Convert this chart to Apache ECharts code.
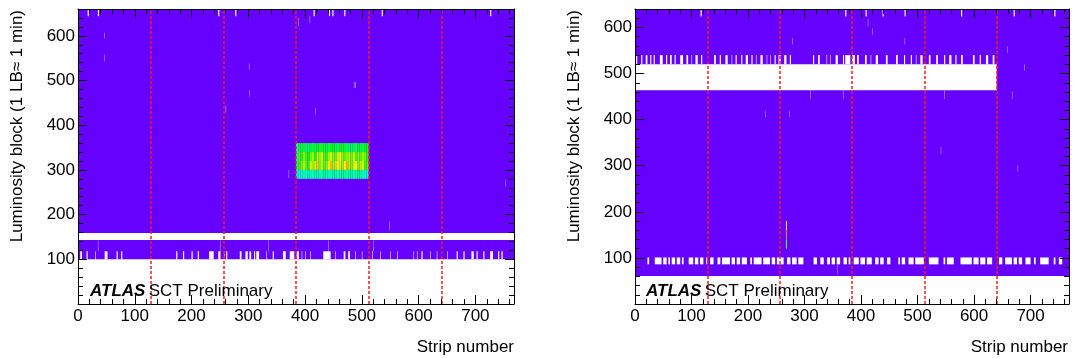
<!DOCTYPE html>
<html>
<head>
<meta charset="utf-8">
<script src="https://cdn.jsdelivr.net/npm/echarts@6/dist/echarts.min.js"></script>
<style>
  html, body { margin: 0; padding: 0; background: #fff; }
  #chart { width: 1073px; height: 358px; }
</style>
</head>
<body>
<div id="chart"></div>
<script>
// --- data (strip ranges in strips, luminosity blocks in LB) ---
const chipEdges = [128, 256, 384, 512, 640];

// left module
const leftOccupied = [[0, 768, 100, 660]];
const leftBands = [[0, 768, 143, 159]];
const leftLowGapRow = [100, 118];
const leftLowGaps = [[4,7],[15,17],[30,31],[47,52],[68,70],[76,78],[173,175],[185,187],[200,202],[211,213],
  [231,239],[247,251],[257,258],[261,263],[285,288],[295,299],[302,305],[310,312],[314,319],[332,333],
  [343,345],[361,366],[373,381],[385,389],[394,395],[400,401],[409,410],[432,445],[453,454],[468,471],
  [476,479],[488,489],[500,501],[518,519],[532,533],[550,551],[562,563],[591,592],[597,598],[605,607],
  [620,621],[632,633],[650,651],[667,669],[679,681],[693,697],[702,704],[714,716],[726,731],[740,742],[746,748]];
const leftTopGapRow = [644, 660];
const leftTopGaps = [[17,19],[35,37],[247,249],[277,279],[415,417],[442,444],[448,450],[469,471],[535,537],[726,728]];
const leftStreaks = [[46,594,607],[46,543,558],[301,524,538],[302,463,479],[260,428,444],[486,483,497],
  [488,483,497],[418,424,439],[371,282,300],[753,263,278],[35,118,142],[250,118,142],[335,118,142],
  [441,118,142],[520,118,142],[388,622,640],[408,628,645],[548,165,185]];

// noisy region, strips 384-512 in groups of 4, rows of 20 LB
const hotStrip0 = 384;
const hotStripStep = 4;
const hotRowEdges = [280, 300, 320, 340, 360];
const hotRows = [
  [30,34,36,38,34,40,36,34,42,38,36,40,44,38,36,34,40,42,36,38,44,40,36,38,42,36,40,44,38,36,34,32],
  [45,60,64,70,62,58,76,66,72,82,64,70,62,66,74,84,68,70,80,72,66,76,86,70,64,72,78,66,70,74,60,62],
  [40,62,58,66,60,55,64,68,58,70,66,72,62,60,68,74,66,64,70,78,68,62,66,70,64,72,60,66,62,68,64,58],
  [38,50,48,52,46,44,50,52,48,55,50,52,58,50,48,52,56,50,48,52,58,50,46,44,48,50,46,52,48,50,56,52]
];

// right module
const rightOccupied = [[0, 768, 61, 640]];
const rightBands = [[0, 640, 464, 520]];
const rightLowGapRow = [86, 101];
const rightLowGaps = [[22,25],[35,47],[50,56],[59,62],[65,71],[74,80],[83,86],[95,103],[106,112],[115,121],
  [126,128],[133,139],[146,151],[154,168],[171,177],[180,186],[189,198],[204,207],[210,224],[227,239],
  [242,248],[251,263],[269,275],[278,286],[289,298],[316,322],[328,334],[340,345],[348,354],[357,363],
  [369,375],[378,381],[387,396],[399,407],[410,419],[425,431],[434,440],[446,452],[466,469],[472,478],
  [484,493],[496,511],[520,537],[546,549],[552,564],[576,596],[599,608],[611,620],[623,632],[644,650],
  [655,667],[670,676],[679,685],[691,700],[706,709],[717,732],[741,744],[750,756]];
const rightMidGapRow = [520, 540];
const rightMidGaps = [[2,4],[11,13],[19,22],[27,29],[33,35],[44,49],[55,57],[62,65],[70,72],[80,85],[91,94],
  [100,101],[107,111],[117,119],[140,143],[150,152],[160,164],[171,172],[178,180],[188,190],[196,200],
  [206,208],[214,215],[222,226],[233,234],[239,240],[247,249],[254,258],[264,268],[274,276],[315,317],
  [324,327],[339,340],[345,346],[355,359],[368,370],[372,381],[384,389],[393,396],[407,410],[417,418],
  [426,430],[444,447],[462,465],[476,478],[488,490],[497,498],[505,509],[520,523],[533,536],[547,549],
  [556,560],[567,569],[577,580],[598,601],[610,612],[621,625],[633,636]];
const rightTopGapRow = [624, 640];
const rightTopGaps = [[116,118],[372,374],[408,410],[438,440],[477,479],[577,579],[670,672],[742,744]];
const rightStreaks = [[541,326,341],[677,287,301],[310,445,463],[368,445,463],[547,445,463],[667,445,461],
  [230,405,419],[273,405,419],[412,603,618],[420,584,598],[477,563,577],[278,563,577],[659,545,559],
  [689,506,520],[358,64,86]];
const rightSpot = [[267, 269, 120, 140, 62], [267, 269, 140, 160, 90], [267, 269, 160, 180, 82]];

// --- build rect items [x0, x1, y0, y1, value] ---
function blocks(list) { return list.map(b => [b[0], b[1], b[2], b[3], 0]); }
function rowGaps(list, row) { return list.map(g => [g[0], g[1], row[0], row[1], 0]); }
function streaks(list) { return list.map(s => [s[0], s[0] + 1, s[1], s[2], 0]); }
function hotCells() {
  const out = [];
  hotRows.forEach((row, r) => {
    row.forEach((v, i) => {
      const x0 = hotStrip0 + i * hotStripStep;
      out.push([x0, x0 + hotStripStep, hotRowEdges[r], hotRowEdges[r + 1], v]);
    });
  });
  return out;
}

const palette = ['#6600ff', '#0000ff', '#0099ff', '#00ffcc', '#00ff66', '#00ff00', '#88ff00', '#ffff00', '#ff8800', '#ff0000'];
const font = 'Liberation Sans, Arial, Helvetica, sans-serif';

function rectRenderer(fill) {
  return function (params, api) {
    const a = api.coord([api.value(0), api.value(3)]);
    const b = api.coord([api.value(1), api.value(2)]);
    return {
      type: 'rect',
      shape: { x: a[0], y: a[1], width: b[0] - a[0], height: b[1] - a[1] },
      style: { fill: fill || api.visual('color') }
    };
  };
}

function xAxes(gi, max) {
  const base = {
    gridIndex: gi, type: 'value', min: 0, max: max, interval: 100, z: 10,
    axisLine: { show: true, onZero: false, lineStyle: { color: '#000', width: 1 } },
    axisTick: { show: true, inside: true, length: 9, lineStyle: { color: '#000' } },
    minorTick: { show: true, splitNumber: 5, length: 5, lineStyle: { color: '#000' } },
    splitLine: { show: false }
  };
  return [
    Object.assign({}, base, {
      position: 'bottom',
      axisLabel: { color: '#000', fontSize: 17, fontFamily: font, margin: 4,
        formatter: v => (v % 100 === 0 ? String(v) : '') }
    }),
    Object.assign({}, base, { position: 'top', axisLabel: { show: false } })
  ];
}

function yAxes(gi, max) {
  const base = {
    gridIndex: gi, type: 'value', min: 0, max: max, interval: 100, z: 10,
    axisLine: { show: true, onZero: false, lineStyle: { color: '#000', width: 1 } },
    axisTick: { show: true, inside: true, length: 9, lineStyle: { color: '#000' } },
    minorTick: { show: true, splitNumber: 5, length: 5, lineStyle: { color: '#000' } },
    splitLine: { show: false }
  };
  return [
    Object.assign({}, base, {
      position: 'left',
      axisLabel: { color: '#000', fontSize: 17, fontFamily: font, margin: 3,
        formatter: v => (v > 0 && v % 100 === 0 ? String(v) : '') }
    }),
    Object.assign({}, base, { position: 'right', axisLabel: { show: false } })
  ];
}

function panelSeries(ax, occupied, gaps, streakList) {
  const enc = { x: [0, 1], y: [2, 3] };
  return [
    { type: 'custom', xAxisIndex: ax, yAxisIndex: ax, renderItem: rectRenderer(null),
      encode: enc, data: occupied, z: 2, silent: true },
    { type: 'custom', xAxisIndex: ax, yAxisIndex: ax, renderItem: rectRenderer('#ffffff'),
      encode: enc, data: gaps, z: 3, silent: true },
    { type: 'custom', xAxisIndex: ax, yAxisIndex: ax, renderItem: rectRenderer('#bda4ff'),
      encode: enc, data: streakList, z: 4, silent: true,
      markLine: {
        silent: true, symbol: 'none', label: { show: false },
        lineStyle: { color: '#ff1a1a', type: [3, 2], width: 1.5, opacity: 1 },
        data: chipEdges.map(x => ({ xAxis: x }))
      } }
  ];
}

const chart = echarts.init(document.getElementById('chart'));

const leftAll = blocks(leftOccupied).concat(hotCells());
const leftGapsAll = blocks(leftBands)
  .concat(rowGaps(leftLowGaps, leftLowGapRow))
  .concat(rowGaps(leftTopGaps, leftTopGapRow));
const rightAll = blocks(rightOccupied).concat(rightSpot);
const rightGapsAll = blocks(rightBands)
  .concat(rowGaps(rightLowGaps, rightLowGapRow))
  .concat(rowGaps(rightMidGaps, rightMidGapRow))
  .concat(rowGaps(rightTopGaps, rightTopGapRow));

const option = {
  animation: false,
  backgroundColor: '#fff',
  grid: [
    { left: 78, top: 9, width: 436, height: 295 },
    { left: 635, top: 9, width: 434, height: 295 }
  ],
  xAxis: xAxes(0, 768).concat(xAxes(1, 768)),
  yAxis: yAxes(0, 660).concat(yAxes(1, 640)),
  visualMap: {
    show: false, type: 'continuous', min: 0, max: 100, dimension: 4,
    seriesIndex: [0, 3], inRange: { color: palette }
  },
  series: panelSeries(0, leftAll, leftGapsAll, streaks(leftStreaks))
    .concat(panelSeries(2, rightAll, rightGapsAll, streaks(rightStreaks))),
  graphic: [
    { type: 'text', x: 17, y: 10, rotation: Math.PI / 2,
      style: { text: 'Luminosity block (1 LB\u2248 1 min)', font: '17px ' + font, fill: '#000',
        align: 'right', verticalAlign: 'middle' } },
    { type: 'text', x: 574, y: 10, rotation: Math.PI / 2,
      style: { text: 'Luminosity block (1 LB\u2248 1 min)', font: '17px ' + font, fill: '#000',
        align: 'right', verticalAlign: 'middle' } },
    { type: 'text', x: 514, y: 347,
      style: { text: 'Strip number', font: '17px ' + font, fill: '#000', align: 'right', verticalAlign: 'middle' } },
    { type: 'text', x: 1068, y: 347,
      style: { text: 'Strip number', font: '17px ' + font, fill: '#000', align: 'right', verticalAlign: 'middle' } },
    { type: 'text', x: 90, y: 291, z: 20,
      style: { text: '{a|ATLAS} {b|SCT Preliminary}', verticalAlign: 'middle',
        rich: { a: { font: 'italic bold 17px ' + font, fill: '#000' }, b: { font: '17px ' + font, fill: '#000' } } } },
    { type: 'text', x: 646, y: 291, z: 20,
      style: { text: '{a|ATLAS} {b|SCT Preliminary}', verticalAlign: 'middle',
        rich: { a: { font: 'italic bold 17px ' + font, fill: '#000' }, b: { font: '17px ' + font, fill: '#000' } } } }
  ]
};

chart.setOption(option);
</script>
</body>
</html>
